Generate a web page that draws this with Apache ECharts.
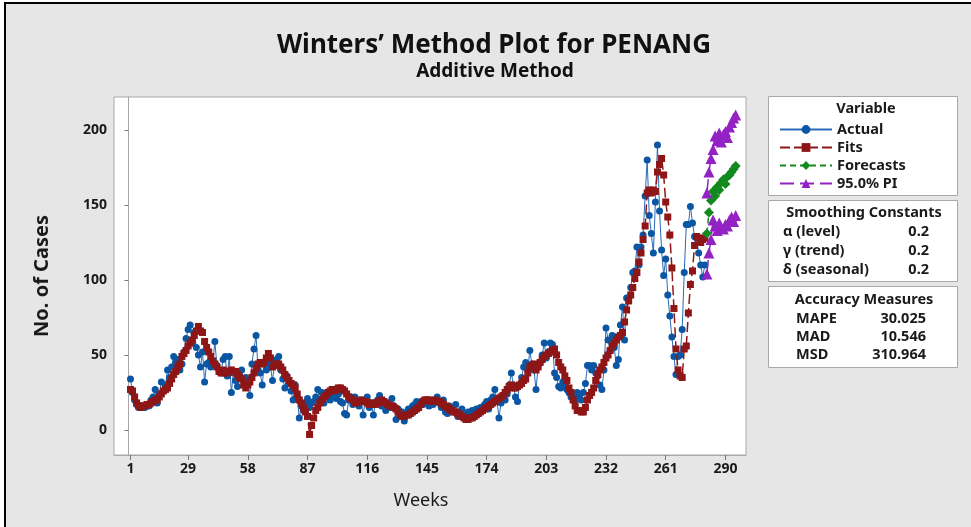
<!DOCTYPE html>
<html>
<head>
<meta charset="utf-8">
<script src="https://cdn.jsdelivr.net/npm/echarts@6/dist/echarts.min.js"></script>
<style>
html,body{margin:0;padding:0;background:#fff;}
#c{width:971px;height:527px;}
</style>
</head>
<body>
<div id="c"></div>
<script>
// ---- data ----
const xTickLabels = [1, 29, 58, 87, 116, 145, 174, 203, 232, 261, 290];
const yTickLabels = [0, 50, 100, 150, 200];

const actual = [
  34, 25, 20, 17, 15, 16, 15, 15, 17, 16,
  20, 22, 27, 18, 24, 32, 26, 30, 40, 35,
  42, 49, 45, 47, 40, 44, 52, 61, 67, 70,
  58, 65, 55, 50, 42, 52, 32, 44, 45, 42,
  44, 59, 43, 40, 38, 47, 49, 36, 49, 25,
  38, 33, 29, 36, 40, 34, 35, 30, 23, 44,
  54, 63, 40, 38, 30, 44, 40, 45, 42, 33,
  44, 47, 49, 40, 34, 28, 36, 31, 26, 20,
  30, 22, 8, 16, 13, 18, 21, 15, 18, 19,
  22, 27, 20, 25, 18, 23, 24, 20, 22, 26,
  21, 24, 19, 18, 11, 10, 20, 22, 17, 22,
  18, 16, 20, 10, 19, 22, 15, 17, 10, 18,
  20, 23, 16, 17, 13, 18, 15, 21, 16, 7,
  14, 10, 12, 6, 11, 14, 12, 16, 17, 19,
  15, 18, 17, 18, 20, 16, 18, 17, 19, 22,
  18, 15, 20, 12, 11, 16, 14, 12, 17, 9,
  12, 14, 10, 8, 12, 10, 13, 11, 14, 12,
  15, 13, 17, 19, 14, 20, 22, 27, 20, 8,
  18, 22, 20, 24, 30, 38, 30, 22, 19, 30,
  35, 42, 45, 40, 53, 44, 40, 27, 42, 45,
  50, 58, 48, 52, 58, 57, 38, 35, 29, 28,
  32, 30, 27, 25, 22, 22, 20, 25, 22, 20,
  25, 31, 43, 43, 40, 43, 38, 36, 30, 27,
  40, 68, 60, 53, 63, 55, 43, 47, 70, 82,
  60, 88, 88, 95, 105, 106, 122, 110, 122, 130,
  156, 180, 143, 131, 118, 152, 190, 146, 120, 103,
  114, 90, 76, 62, 49, 37, 49, 50, 67, 105,
  137, 137, 149, 138, 129, 128, 118, 110, 102, 110
];

const fits = [
  27, 26, 22, 18, 16, 15, 16, 16, 17, 17,
  18, 19, 20, 20, 22, 24, 26, 27, 28, 31,
  34, 37, 39, 42, 44, 49, 51, 53, 56, 58,
  60, 63, 66, 69, 66, 65, 59, 55, 52, 49,
  46, 44, 42, 39, 38, 40, 38, 38, 39, 40,
  39, 39, 37, 35, 34, 30, 28, 30, 32, 35,
  38, 41, 44, 45, 44, 45, 48, 51, 48, 42,
  43, 44, 44, 42, 40, 37, 35, 33, 31, 30,
  28, 24, 20, 18, 15, 12, 9, -3, 3, 8,
  13, 15, 18, 20, 22, 23, 25, 26, 27, 26,
  27, 28, 28, 27, 26, 24, 22, 21, 20, 18,
  18, 19, 20, 19, 19, 18, 17, 18, 18, 17,
  18, 19, 20, 19, 18, 17, 16, 16, 15, 14,
  12, 10, 9, 9, 10, 10, 11, 12, 13, 14,
  15, 17, 19, 20, 20, 20, 19, 19, 20, 19,
  19, 18, 17, 16, 15, 14, 13, 12, 12, 11,
  10, 9, 8, 7, 7, 8, 8, 9, 10, 11,
  12, 13, 14, 15, 16, 17, 18, 19, 20, 21,
  22, 23, 25, 27, 29, 30, 28, 28, 29, 30,
  31, 33, 34, 38, 42, 43, 44, 40, 42, 45,
  47, 49, 50, 51, 52, 53, 54, 50, 45, 42,
  40, 36, 33, 28, 25, 20, 16, 13, 13, 12,
  12, 15, 20, 23, 25, 28, 33, 37, 40, 42,
  45, 48, 50, 53, 56, 58, 60, 62, 63, 65,
  72, 80, 86, 90, 95, 101, 105, 112, 118, 127,
  136, 158, 160, 158, 160, 159, 172, 177, 181, 170,
  152, 142, 130, 108, 81, 54, 40, 36, 35, 54,
  56, 78, 97, 106, 123, 129, 128, 125, 127, 128
];

const forecastWeeks = [281, 282, 283, 284, 285, 286, 287, 288, 289, 290, 291, 292, 293, 294, 295];
const forecasts = [131, 145, 153, 159, 156, 162, 160, 165, 167, 164, 169, 170, 172, 174, 176];
const piUpper   = [158, 172, 181, 187, 196, 193, 198, 192, 197, 199, 195, 202, 205, 208, 210];
const piLower   = [104, 118, 127, 140, 136, 133, 138, 135, 134, 137, 136, 140, 142, 139, 143];

// ---- build ----
const pairs = (vals, start) => vals.map((v, i) => [start + i, v]);
const pairsW = (weeks, vals) => vals.map((v, i) => [weeks[i], v]);

const FONT = 'Noto Sans';
const chart = echarts.init(document.getElementById('c'), null, {renderer: 'canvas'});

const blueLine = '#2a6bb8', blueDot = '#0a56a3';
const red = '#8e1616';
const green = '#128a1e';
const purple = '#9322c4';
const TXT = '#1a1a1a';
const LFS = 14.5;

function t(x, y, text, align, extra) {
  return {type: 'text', silent: true, x: x, y: y,
    style: Object.assign({text: text, fontFamily: FONT, fontSize: LFS, fontWeight: 'bold', fill: TXT, align: align, verticalAlign: 'middle'}, extra || {})};
}

const option = {
  backgroundColor: '#ffffff',
  animation: false,
  textStyle: {fontFamily: FONT},
  grid: {left: 114, right: 225, top: 97, bottom: 72, show: true, backgroundColor: '#ffffff', borderColor: '#a8a8a8', borderWidth: 1},
  xAxis: {
    type: 'value', min: -7, max: 300,
    name: 'Weeks', nameLocation: 'middle', nameGap: 37,
    nameTextStyle: {fontFamily: FONT, fontSize: 18, color: TXT, padding: [0, 18, 0, 0]},
    axisLine: {show: true, onZero: false, lineStyle: {color: '#a8a8a8'}},
    axisTick: {show: true, customValues: xTickLabels, length: 5, lineStyle: {color: '#777'}},
    axisLabel: {customValues: xTickLabels, fontFamily: FONT, fontSize: 14, fontWeight: 'bold', color: TXT, margin: 7},
    splitLine: {show: false}
  },
  yAxis: {
    type: 'value', min: -16.7, max: 222,
    name: 'No. of Cases', nameLocation: 'middle', nameGap: 62, nameRotate: 90,
    nameTextStyle: {fontFamily: FONT, fontSize: 20, fontWeight: 'bold', color: TXT},
    axisLine: {show: true, lineStyle: {color: '#a8a8a8'}},
    axisTick: {show: true, customValues: yTickLabels, length: 4, lineStyle: {color: '#777'}},
    axisLabel: {customValues: yTickLabels, fontFamily: FONT, fontSize: 14, fontWeight: 'bold', color: TXT, margin: 7},
    splitLine: {show: false}
  },
  legend: {
    orient: 'vertical', left: 774, top: 117, itemWidth: 52, itemHeight: 11, itemGap: 3,
    textStyle: {fontFamily: FONT, fontSize: LFS, fontWeight: 'bold', color: TXT},
    data: ['Actual', 'Fits', 'Forecasts', '95.0% PI']
  },
  series: [
    {
      name: 'Actual', type: 'line', data: pairs(actual, 1),
      symbol: 'circle', symbolSize: 7,
      lineStyle: {color: blueLine, width: 1}, itemStyle: {color: blueDot}, z: 3
    },
    {
      name: 'Fits', type: 'line', data: pairs(fits, 1),
      symbol: 'rect', symbolSize: 7,
      lineStyle: {color: red, width: 1.5, type: [10, 4]}, itemStyle: {color: red}, z: 4
    },
    {
      name: 'Forecasts', type: 'line', data: pairsW(forecastWeeks, forecasts),
      symbol: 'diamond', symbolSize: 10,
      lineStyle: {color: green, width: 1.5, type: [6, 4]}, itemStyle: {color: green}, z: 5
    },
    {
      name: '95.0% PI', type: 'line', data: pairsW(forecastWeeks, piUpper),
      symbol: 'triangle', symbolSize: 11,
      lineStyle: {color: purple, width: 1.5, type: [14, 6]}, itemStyle: {color: purple}, z: 5
    },
    {
      name: '95.0% PI', type: 'line', data: pairsW(forecastWeeks, piLower),
      symbol: 'triangle', symbolSize: 11,
      lineStyle: {color: purple, width: 1.5, type: [14, 6]}, itemStyle: {color: purple}, z: 5
    }
  ],
  graphic: [
    {type: 'rect', z: -10, silent: true, shape: {x: 5, y: 3, width: 980, height: 540}, style: {fill: '#e6e6e6'}},
    {type: 'line', z: -9, silent: true, shape: {x1: 4, y1: 3, x2: 971, y2: 3}, style: {stroke: '#000', lineWidth: 2}},
    {type: 'line', z: -9, silent: true, shape: {x1: 5, y1: 2, x2: 5, y2: 527}, style: {stroke: '#000', lineWidth: 2}},
    t(494, 46, 'Winters\u2019 Method Plot for PENANG', 'center', {fontSize: 26, fill: '#111'}),
    t(495, 72, 'Additive Method', 'center', {fontSize: 19, fill: '#111'}),
    // legend boxes
    {type: 'rect', z: -5, silent: true, shape: {x: 768.5, y: 96.5, width: 189, height: 99}, style: {fill: '#fff', stroke: '#a8a8a8', lineWidth: 1}},
    {type: 'rect', z: -5, silent: true, shape: {x: 768.5, y: 200.5, width: 189, height: 81}, style: {fill: '#fff', stroke: '#a8a8a8', lineWidth: 1}},
    {type: 'rect', z: -5, silent: true, shape: {x: 768.5, y: 286.5, width: 189, height: 81}, style: {fill: '#fff', stroke: '#a8a8a8', lineWidth: 1}},
    t(866, 109, 'Variable', 'center'),
    t(864, 213, 'Smoothing Constants', 'center'),
    t(783, 232, '\u03b1 (level)', 'left'),
    t(783, 251, '\u03b3 (trend)', 'left'),
    t(783, 270, '\u03b4 (seasonal)', 'left'),
    t(929, 232, '0.2', 'right'),
    t(929, 251, '0.2', 'right'),
    t(929, 270, '0.2', 'right'),
    t(864, 300, 'Accuracy Measures', 'center'),
    t(796, 319, 'MAPE', 'left'),
    t(796, 337, 'MAD', 'left'),
    t(796, 355, 'MSD', 'left'),
    t(926, 319, '30.025', 'right'),
    t(926, 337, '10.546', 'right'),
    t(926, 355, '310.964', 'right')
  ]
};
chart.setOption(option);
</script>
</body>
</html>
